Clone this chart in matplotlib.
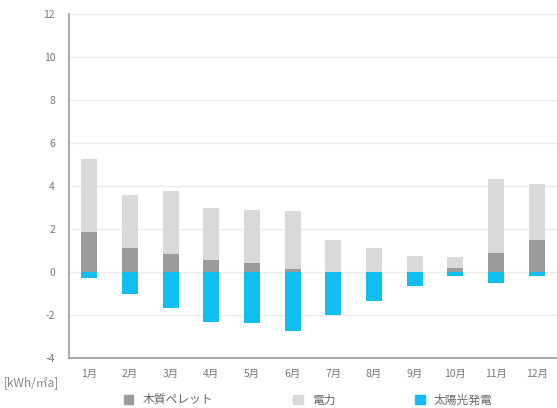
import matplotlib
matplotlib.use("Agg")
import matplotlib.pyplot as plt
from matplotlib.patches import Patch
import numpy as np

plt.rcParams['font.family'] = ['Noto Sans CJK JP', 'DejaVu Sans']

months = ["1月", "2月", "3月", "4月", "5月", "6月", "7月", "8月", "9月", "10月", "11月", "12月"]
pellet = [1.85, 1.10, 0.82, 0.57, 0.42, 0.15, 0.0, 0.0, 0.0, 0.19, 0.88, 1.47]
electric = [3.42, 2.47, 2.96, 2.41, 2.46, 2.69, 1.49, 1.13, 0.74, 0.52, 3.43, 2.61]
solar = [-0.26, -1.04, -1.66, -2.31, -2.39, -2.73, -1.98, -1.33, -0.67, -0.20, -0.50, -0.17]
yticks = [-4, -2, 0, 2, 4, 6, 8, 10, 12]
labels = ["木質ペレット", "電力", "太陽光発電"]

c_pellet = "#9b9b9b"
c_elec = "#d9d9d9"
c_solar = "#10bff0"

fig = plt.figure(figsize=(5.57, 4.08), dpi=100)
ax = fig.add_axes([69/557, (408-358)/408, (557-69)/557, (358-14)/408])

x = np.arange(len(months))
w = 0.40
ax.bar(x, pellet, w, color=c_pellet, zorder=3)
ax.bar(x, electric, w, bottom=pellet, color=c_elec, zorder=3)
ax.bar(x, solar, w, color=c_solar, zorder=3)

ax.set_xlim(-0.5, 11.5)
ax.set_ylim(-4, 12)
ax.set_yticks(yticks)
ax.set_yticklabels([str(t) for t in yticks])
ax.set_xticks(x)
ax.set_xticklabels(months)
ax.tick_params(axis='both', length=0, labelsize=7.5, colors="#777777")
ax.tick_params(axis='y', pad=10)
ax.tick_params(axis='x', pad=8)
ax.grid(axis='y', color="#eeeeee", linewidth=1, zorder=0)
for s in ['top', 'right']:
    ax.spines[s].set_visible(False)
for s in ['left', 'bottom']:
    ax.spines[s].set_color("#999999")
    ax.spines[s].set_linewidth(1.2)

fig.text(4/557, 1 - 383/408, "[kWh/㎡a]", fontsize=8.5, color="#888888", va='center', ha='left')

handles = [Patch(color=c_pellet), Patch(color=c_elec), Patch(color=c_solar)]
fig.legend(handles, labels, loc='center left', bbox_to_anchor=(124/557, 1 - 400/408), ncol=3,
           frameon=False, fontsize=8.5, handlelength=0.8, handleheight=0.8,
           columnspacing=6.75, handletextpad=0.8, labelcolor="#666666",
           borderpad=0, borderaxespad=0)

fig.savefig("out.png", dpi=100)
